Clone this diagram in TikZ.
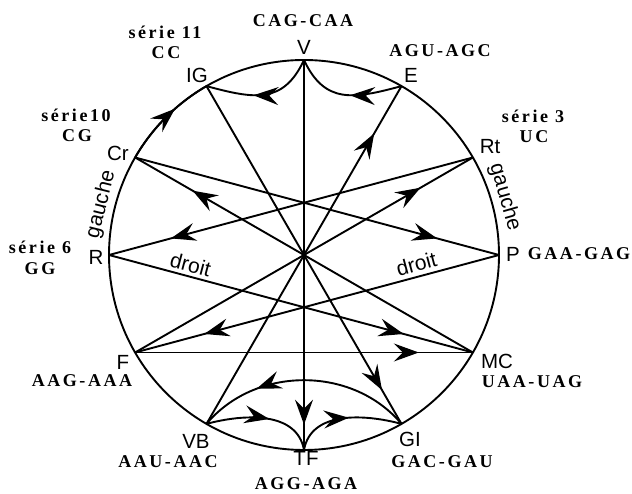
\documentclass[tikz,border=0pt]{standalone}
\usepackage{fontspec}
\setmainfont{Liberation Serif}
\newfontfamily\sflab{Liberation Sans}
\newfontfamily\serlab[LetterSpace=14]{Liberation Serif}
\usetikzlibrary{arrows.meta,decorations.markings}
\begin{document}
\begin{tikzpicture}[x=1pt,y=1pt,line width=1.9pt,
  lab/.style={font=\sflab\fontsize{20.5}{22}\selectfont,inner sep=0pt},
  dlab/.style={font=\sflab\fontsize{21}{22}\selectfont},
  cod/.style={font=\serlab\bfseries\fontsize{18}{20}\selectfont,inner sep=0pt},
  ar/.style={postaction={decorate,decoration={markings,mark=at position #1 with {\arrow{Stealth[length=25pt,width=18pt,inset=9pt]}}}}}
]
\useasboundingbox (-304,-239) rectangle (328,255);
\draw (0,0) circle[radius=195];
\foreach \n/\a in {V/90,E/60,Rt/30,P/0,MC/-30,GI/-60,TF/-90,VB/-120,F/-150,R/180,Cr/150,IG/120}
  \coordinate (\n) at (\a:195);
% straight connectors
\draw[ar=0.935] (V) -- (TF);
\draw[ar=0.90] (IG) -- (GI);
\draw[ar=0.86] (VB) -- (E);
\draw[ar=0.845] (F) -- (Rt);
\draw[ar=0.83] (Cr) -- (P);
\draw[ar=0.83] (MC) -- (Cr);
\draw[ar=0.83] (Rt) -- (R);
\draw[ar=0.81] (P) -- (F);
\draw[ar=0.81] (R) -- (MC) node[pos=0.216,sloped,above,inner sep=3pt,dlab] (d1) {droit};
\draw[ar=0.84] (F) -- (MC);
\path (F) -- (P) node[pos=0.782,sloped,above,inner sep=4pt,dlab] (d2) {droit};
% curved connectors
\draw[ar=0.58] (V) to[out=-115,in=-15,looseness=1.25] (IG);
\draw[ar=0.46] (E) to[out=195,in=-65,looseness=1.25] (V);
\draw[ar=0.72] (GI) to[out=130,in=50] (VB);
\draw[ar=0.56] (VB) to[out=15,in=100] (TF);
\draw[ar=0.53] (TF) to[out=80,in=165] (GI);
\draw[ar=0.62] (Cr) arc[start angle=150,end angle=120,radius=195];
% gauche labels
\node[dlab,rotate=76,inner sep=0pt] (g1) at (166:209) {gauche};
\node[dlab,rotate=-74,inner sep=0pt] (g2) at (16:209) {gauche};
% point labels
\node[lab] (lV) at (0,208) {V};
\node[lab] (lIG) at (-107,180) {IG};
\node[lab] (lE) at (107,180) {E};
\node[lab] (lCr) at (-186,102) {Cr};
\node[lab] (lRt) at (186,108) {Rt};
\node[lab] (lR) at (-208,-2) {R};
\node[lab] (lP) at (209,1) {P};
\node[lab] (lF) at (-181,-107) {F};
\node[lab] (lMC) at (193,-106) {MC};
\node[lab] (lVB) at (-108,-186) {VB};
\node[lab] (lGI) at (106,-184) {GI};
\node[lab] (lTF) at (2,-203) {TF};
% codon labels
\node[cod] (c1) at (-1,234) {CAG-CAA};
\node[cod] (c2) at (-139,223) {série 11};
\node[cod] (c3) at (-138,202) {CC};
\node[cod] (c4) at (136,204) {AGU-AGC};
\node[cod] (c5) at (-228,140) {série10};
\node[cod] (c6) at (-227,119) {CG};
\node[cod] (c7) at (229,139) {série 3};
\node[cod] (c8) at (230,118) {UC};
\node[cod] (c9) at (-264,8) {série 6};
\node[cod] (c10) at (-264,-14) {GG};
\node[cod] (c11) at (275,1) {GAA-GAG};
\node[cod] (c12) at (-222,-126) {AAG-AAA};
\node[cod] (c13) at (228,-127) {UAA-UAG};
\node[cod] (c14) at (-136,-207) {AAU-AAC};
\node[cod] (c15) at (2,-229) {AGG-AGA};
\node[cod] (c16) at (138,-207) {GAC-GAU};
\end{tikzpicture}
\end{document}
